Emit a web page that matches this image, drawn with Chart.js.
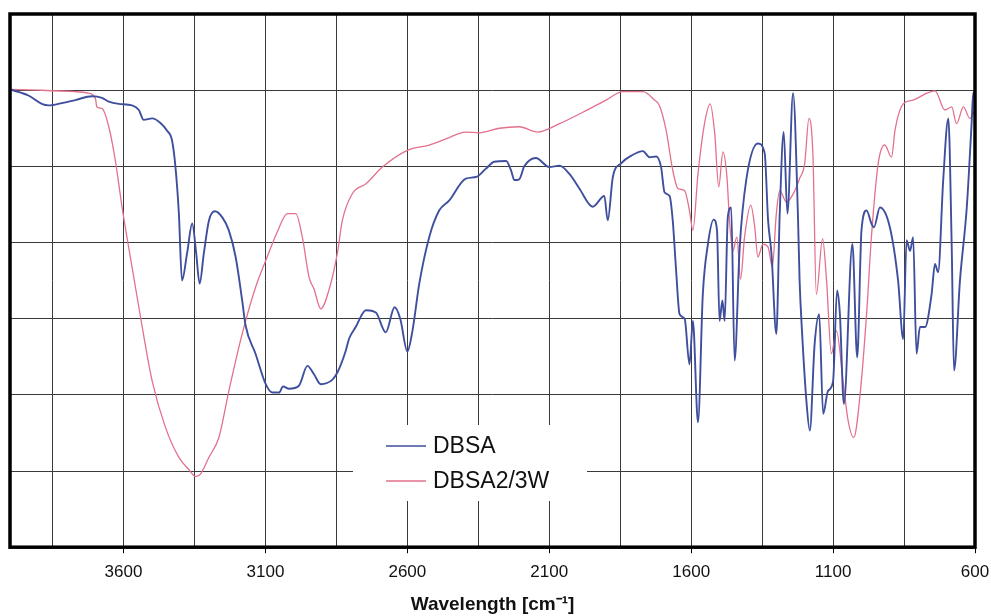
<!DOCTYPE html>
<html>
<head>
<meta charset="utf-8">
<script src="https://cdn.jsdelivr.net/npm/chart.js@4/dist/chart.umd.min.js"></script>
<style>
  html, body { margin: 0; padding: 0; background: #ffffff; }
  #wrap { width: 991px; height: 616px; position: relative; }
</style>
</head>
<body>
<div id="wrap"><canvas id="c" width="991" height="616"></canvas></div>
<script>
// ---- Data ----
const seriesNames = ['DBSA', 'DBSA2/3W'];

// DBSA: wavenumber (cm-1) and signal (arbitrary % units)
const dbsaWn = [4000,3935,3888,3864,3817,3770,3711,3676,3652,3617,3570,3546,3529,3499,3470,3447,3429,3417,3405,3394,3376,3358,3344,3332,3317,3299,3278,3252,3229,3205,3182,3170,3135,3099,3076,3052,3038,3017,2982,2952,2929,2905,2864,2847,2817,2805,2782,2746,2711,2676,2645,2625,2600,2582,2558,2523,2488,2453,2394,2358,2323,2294,2252,2235,2223,2206,2188,2147,2100,2064,2029,1994,1947,1906,1894,1876,1847,1811,1770,1747,1723,1706,1694,1676,1665,1653,1641,1623,1606,1594,1576,1559,1541,1521,1509,1500,1490,1482,1471,1459,1447,1429,1406,1365,1341,1329,1317,1300,1288,1274,1261,1241,1224,1218,1209,1194,1182,1165,1149,1135,1118,1100,1086,1076,1062,1032,1015,1000,982,965,956,935,900,871,853,841,829,818,806,794,776,753,741,730,712,694,682,674,653,629,612,606,600];
const dbsaT  = [60.1,59.3,58.2,58.0,58.3,58.7,59.2,59.0,58.5,58.2,58.0,57.4,56.1,56.3,55.7,54.7,53.4,49.9,43.8,35.0,38.6,42.5,38.6,34.6,38.6,42.9,44.1,43.3,41.6,38.1,32.4,29.1,25.4,21.4,20.3,20.3,21.1,20.8,21.2,23.8,22.7,21.4,22.0,22.9,25.8,27.4,28.9,31.1,30.8,28.2,31.5,30.0,25.7,28.4,34.6,40.7,44.2,45.5,48.4,48.6,49.7,50.6,50.7,49.5,48.2,48.3,50.0,51.1,49.9,50.1,49.0,47.1,44.7,46.1,42.9,48.6,50.4,51.4,52.0,51.2,51.3,49.9,46.6,46.1,42.9,36.3,30.6,30.0,24.0,29.7,16.4,33.2,39.8,43.0,41.6,29.7,32.4,29.7,43.3,44.6,24.5,39.4,48.2,53.0,51.7,42.9,38.5,28.0,43.8,54.5,43.8,59.6,43.8,35.0,28.0,19.2,15.3,26.7,30.6,17.5,20.5,21.8,33.7,30.6,18.8,39.8,24.9,41.6,44.2,42.5,42.0,44.6,42.0,35.0,27.3,40.3,38.9,40.7,25.4,28.9,28.9,33.2,37.2,36.1,48.2,56.3,39.4,23.2,35.0,44.6,55.6,59.7,59.4];

// DBSA2/3W
const dbsa23Wn = [4000,3899,3770,3723,3699,3694,3676,3652,3629,3605,3582,3546,3499,3452,3405,3370,3346,3329,3299,3264,3229,3182,3135,3094,3058,3023,2993,2970,2946,2929,2905,2876,2847,2829,2794,2746,2688,2600,2523,2464,2394,2347,2276,2206,2141,2064,1982,1900,1841,1770,1729,1712,1688,1665,1647,1623,1606,1594,1576,1553,1533,1517,1503,1488,1474,1465,1453,1439,1426,1412,1390,1376,1365,1347,1329,1314,1300,1288,1264,1235,1218,1200,1185,1171,1159,1137,1123,1106,1088,1065,1047,1027,1006,982,965,941,918,894,882,853,818,770,741,706,682,665,641,618,600];
const dbsa23T  = [60.1,60.0,59.8,59.6,58.9,57.8,57.6,55.2,50.8,44.6,39.4,31.5,21.8,15.7,11.8,10.2,9.3,9.6,11.8,14.4,20.5,28.0,34.1,38.1,41.4,43.8,43.8,40.7,35.4,33.9,31.3,33.8,38.5,42.9,46.4,47.7,49.9,52.1,52.8,53.6,54.5,54.4,55.0,55.2,54.5,55.6,57.1,58.7,59.8,59.8,58.7,58.0,54.7,49.5,47.1,46.8,44.2,41.6,49.0,55.6,58.2,54.3,47.3,51.9,48.6,42.9,38.9,40.7,35.2,40.7,44.9,42.0,38.1,39.8,39.4,36.8,43.8,46.8,45.3,46.8,48.4,50.4,56.3,51.4,33.2,40.5,35.0,25.4,28.4,21.8,16.6,14.4,19.6,30.6,40.7,50.4,52.8,51.2,54.7,58.2,58.7,59.6,59.9,57.4,57.8,55.6,57.8,56.3,57.4];

// Axis ticks
const xGridTicks  = [3850,3600,3350,3100,2850,2600,2350,2100,1850,1600,1350,1100,850,600];
const xLabelTicks = [3600,3100,2600,2100,1600,1100,600];
const xTitle = 'Wavelength [cm\u207B\u00B9]';

const colors = ['#3f4f9e', '#e3718c'];

function toPoints(xs, ys) { return xs.map((x, i) => ({ x: x, y: ys[i] })); }

const framePlugin = {
  id: 'frameAndLegend',
  afterDatasetsDraw(chart) {
    const ctx = chart.ctx;
    const a = chart.chartArea;
    ctx.save();
    // legend box (white, covers the grid)
    const bx = 353, by = 425, bw = 234, bh = 76;
    ctx.fillStyle = '#ffffff';
    ctx.fillRect(bx, by, bw, bh);
    ctx.font = '23px "Liberation Sans", Arial, sans-serif';
    ctx.textBaseline = 'middle';
    ctx.textAlign = 'left';
    chart.data.datasets.forEach((ds, i) => {
      const y = 446 + i * 35;
      ctx.strokeStyle = ds.borderColor;
      ctx.lineWidth = 1.6;
      ctx.beginPath();
      ctx.moveTo(386, y);
      ctx.lineTo(426, y);
      ctx.stroke();
      ctx.fillStyle = '#111111';
      ctx.fillText(ds.label, 433, y + 1);
    });
    // thick frame
    ctx.strokeStyle = '#000000';
    ctx.lineWidth = 3.5;
    ctx.strokeRect(a.left, a.top, a.right - a.left, a.bottom - a.top);
    ctx.restore();
  }
};

new Chart(document.getElementById('c'), {
  type: 'line',
  data: {
    datasets: [
      { label: seriesNames[0], data: toPoints(dbsaWn, dbsaT), borderColor: colors[0], borderWidth: 1.9,
        pointRadius: 0, cubicInterpolationMode: 'monotone', fill: false },
      { label: seriesNames[1], data: toPoints(dbsa23Wn, dbsa23T), borderColor: colors[1], borderWidth: 1.3,
        pointRadius: 0, cubicInterpolationMode: 'monotone', fill: false }
    ]
  },
  options: {
    responsive: false,
    animation: false,
    layout: { padding: { left: 10, right: 16, top: 14, bottom: 0 } },
    plugins: { legend: { display: false }, tooltip: { enabled: false } },
    scales: {
      x: {
        type: 'linear',
        reverse: true,
        min: 600,
        max: 4000,
        afterBuildTicks(scale) { scale.ticks = xGridTicks.map(v => ({ value: v })); },
        afterFit(scale) { scale.paddingRight = 0; scale.paddingLeft = 0; },
        ticks: {
          autoSkip: false, maxRotation: 0, padding: 11,
          color: '#111111',
          font: { family: '"Liberation Sans", Arial, sans-serif', size: 17, lineHeight: 1.0 },
          callback: (v) => xLabelTicks.includes(v) ? String(v) : ''
        },
        grid: {
          color: '#3a3a3a', lineWidth: 1, tickLength: 6,
          tickColor: (c) => (c.tick && xLabelTicks.includes(c.tick.value)) ? '#000000' : 'rgba(0,0,0,0)'
        },
        border: { display: false },
        title: {
          display: true, text: xTitle, color: '#111111',
          font: { family: '"Liberation Sans", Arial, sans-serif', size: 19, weight: 'bold' },
          padding: { top: 1, bottom: 0 }
        }
      },
      y: {
        type: 'linear',
        min: 0,
        max: 70,
        ticks: { display: false, stepSize: 10 },
        grid: { color: '#3a3a3a', lineWidth: 1, drawTicks: false },
        border: { display: false }
      }
    }
  },
  plugins: [framePlugin]
});
</script>
</body>
</html>
